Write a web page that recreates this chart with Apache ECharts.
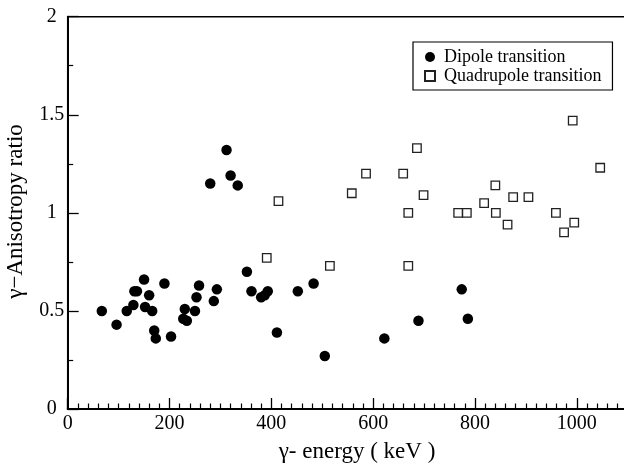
<!DOCTYPE html>
<html>
<head>
<meta charset="utf-8">
<script src="https://cdn.jsdelivr.net/npm/echarts@6/dist/echarts.min.js"></script>
<style>
html,body{margin:0;padding:0;background:#fff;}
#c{width:624px;height:468px;}
</style>
</head>
<body>
<div id="c"></div>
<script>
// Dipole transition (filled circles): energy (keV), anisotropy ratio
const dipoleE = [67, 96, 116, 129, 131, 136, 150, 152, 160, 166, 170, 173, 190, 203, 227, 230, 234, 250, 253, 258, 280, 287, 293, 312, 320, 334, 352, 361, 380, 387, 393, 411, 452, 483, 505, 622, 689, 774, 786];
const dipoleR = [0.50, 0.43, 0.50, 0.53, 0.60, 0.60, 0.66, 0.52, 0.58, 0.50, 0.40, 0.36, 0.64, 0.37, 0.46, 0.51, 0.45, 0.50, 0.57, 0.63, 1.15, 0.55, 0.61, 1.32, 1.19, 1.14, 0.70, 0.60, 0.57, 0.58, 0.60, 0.39, 0.60, 0.64, 0.27, 0.36, 0.45, 0.61, 0.46];
// Quadrupole transition (open squares)
const quadE = [391, 414, 515, 558, 586, 659, 669, 669, 686, 699, 767, 784, 818, 840, 841, 864, 875, 905, 959, 975, 992, 995, 1046];
const quadR = [0.77, 1.06, 0.73, 1.10, 1.20, 1.20, 1.00, 0.73, 1.33, 1.09, 1.00, 1.00, 1.05, 1.14, 1.00, 0.94, 1.08, 1.08, 1.00, 0.90, 1.47, 0.95, 1.23];

const seriesNames = ['Dipole transition', 'Quadrupole transition'];
const xTitle = 'γ- energy ( keV )';
const yTitle = 'γ−Anisotropy ratio';

const zip = (a, b) => a.map((v, i) => [v, b[i]]);
const FONT = '"Liberation Serif", "DejaVu Serif", serif';

const chart = echarts.init(document.getElementById('c'));
chart.setOption({
  animation: false,
  backgroundColor: '#fff',
  grid: {
    left: 67.7, top: 16.7, height: 392.3, width: 560,
    containLabel: false, outerBoundsMode: 'none',
    show: true, borderColor: '#000', borderWidth: 1.5, backgroundColor: 'transparent'
  },
  xAxis: {
    type: 'value', min: 0, max: 1100, interval: 200,
    axisLine: { show: true, lineStyle: { color: '#000', width: 2 } },
    axisTick: { show: true, inside: true, length: 11, lineStyle: { color: '#000', width: 1.3 } },
    minorTick: { show: true, splitNumber: 10, length: 5.5, lineStyle: { color: '#000', width: 1.2 } },
    splitLine: { show: false },
    axisLabel: {
      color: '#000', fontFamily: FONT, fontSize: 20, margin: 5,
      formatter: v => (v > 1000 ? '' : String(v))
    }
  },
  yAxis: {
    type: 'value', min: 0, max: 2, interval: 0.5,
    axisLine: { show: true, lineStyle: { color: '#000', width: 2 } },
    axisTick: { show: true, inside: true, length: 11, lineStyle: { color: '#000', width: 1.3 } },
    minorTick: { show: true, splitNumber: 2, length: 5.5, lineStyle: { color: '#000', width: 1.2 } },
    splitLine: { show: false },
    axisLabel: {
      color: '#000', fontFamily: FONT, fontSize: 20, margin: 16, align: 'center',
      formatter: v => String(v)
    }
  },
  legend: {
    left: 413, top: 42, orient: 'vertical',
    padding: [6, 11, 5, 11],
    itemGap: 1, itemWidth: 10, itemHeight: 10,
    borderColor: '#000', borderWidth: 1.2, backgroundColor: '#fff',
    textStyle: { color: '#000', fontFamily: FONT, fontSize: 18, lineHeight: 18, padding: [0, 0, 0, 4] },
    data: seriesNames
  },
  graphic: [
    {
      type: 'text', x: 357, y: 452,
      style: { text: xTitle, fill: '#000', font: '23px ' + FONT, textAlign: 'center', textVerticalAlign: 'middle' }
    },
    {
      type: 'text', x: 16, y: 211.5, rotation: Math.PI / 2,
      style: { text: yTitle, fill: '#000', font: '23px ' + FONT, textAlign: 'center', textVerticalAlign: 'middle' }
    }
  ],
  series: [
    {
      name: seriesNames[0], type: 'scatter', symbol: 'circle', symbolSize: 10.5,
      itemStyle: { color: '#000', opacity: 1 },
      data: zip(dipoleE, dipoleR), z: 3
    },
    {
      name: seriesNames[1], type: 'scatter', symbol: 'rect', symbolSize: 8.5,
      itemStyle: { color: '#fff', borderColor: '#222', borderWidth: 1.3, opacity: 1 },
      data: zip(quadE, quadR), z: 2
    }
  ]
});
</script>
</body>
</html>
